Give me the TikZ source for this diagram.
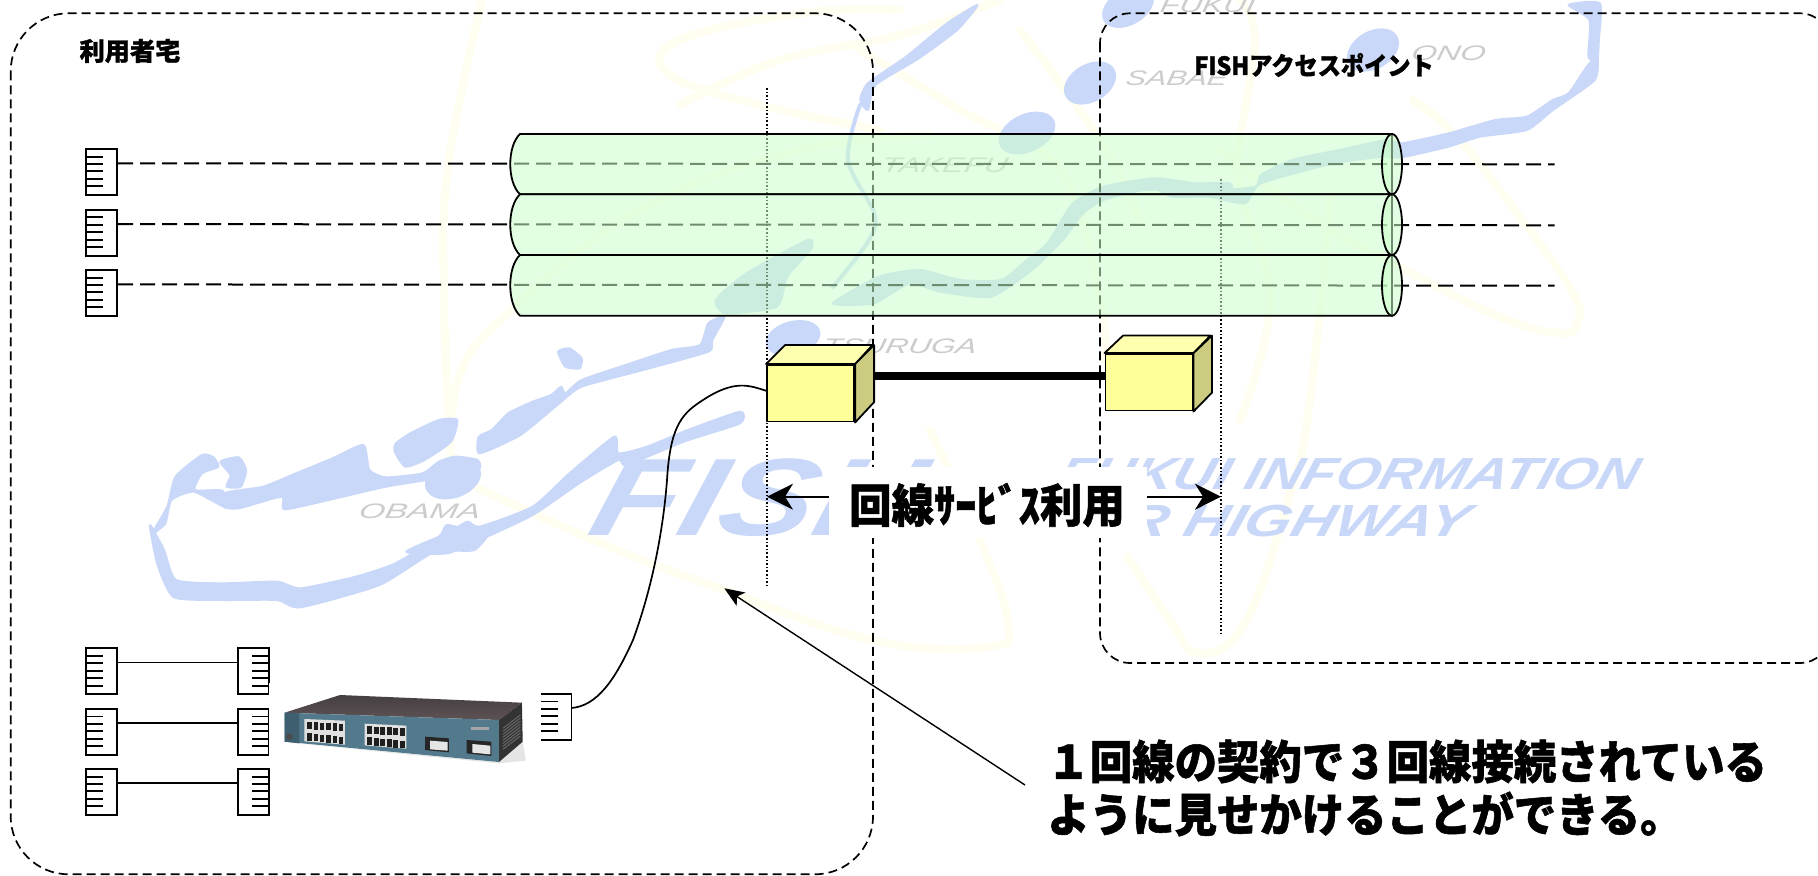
\documentclass[tikz,border=0pt]{standalone}
\usepackage{fontspec}
\usepackage{graphicx}
\usetikzlibrary{arrows.meta,calc}
\newfontfamily\jpf[UprightFont=* Black,FakeBold=1.2]{Noto Sans CJK JP}
\newfontfamily\mapf{Liberation Sans}
\definecolor{mapblue}{HTML}{C9D8F8}
\definecolor{mapyellow}{HTML}{FFFEF0}
\definecolor{tubegreen}{HTML}{CCFFCC}
\definecolor{cubefront}{HTML}{FFFF99}
\definecolor{cubetop}{HTML}{FFFFB0}
\definecolor{cubeside}{HTML}{CCCC80}
\definecolor{swfront}{HTML}{527A8C}
\definecolor{swdark}{HTML}{3E5F6F}
\definecolor{swtopa}{HTML}{453F42}
\definecolor{swtopb}{HTML}{5E5254}
\tikzset{
  coastfill/.style={fill=mapblue,draw=mapblue,line width=1pt,line join=round},
  coastline/.style={draw=mapblue,line cap=round,line join=round,smooth,tension=0.55},
  ycurve/.style={draw=mapyellow,line width=4pt,line cap=round,smooth,tension=0.7},
  maptext/.style={font=\mapf\itshape\fontsize{10.5}{12}\selectfont,text=black!20,inner sep=0,xslant=0.18,transform shape},
  bigmap/.style={font=\mapf\bfseries\itshape,text=mapblue,inner sep=0,xslant=0.28,transform shape},
  zone/.style={line width=0.85pt,dash pattern=on 4.5pt off 2.5pt,rounded corners=29pt},
  zonesmall/.style={line width=0.85pt,dash pattern=on 4.5pt off 2.5pt,rounded corners=15pt},
  guide/.style={line width=0.55pt,dash pattern=on 0.8pt off 1.0pt},
  cable/.style={line width=1pt,dash pattern=on 7.5pt off 3.5pt},
  patch/.style={line width=0.9pt},
  tube/.style={draw=black,line width=0.9pt,fill=tubegreen,fill opacity=0.55},
  porticon/.style={draw=black,line width=0.9pt,fill=white,rectangle,inner sep=0,minimum width=15.5pt,minimum height=23pt},
  portL/.style={porticon,path picture={
    \foreach \d in {7.7,15,22.3,30,37.3}
      \draw[line width=0.9pt] ([shift={(0,\d)}]path picture bounding box.north west) -- ++(17,0);}},
  portR/.style={porticon,path picture={
    \foreach \d in {7.7,15,22.3,30,37.3}
      \draw[line width=0.9pt] ([shift={(0,\d)}]path picture bounding box.north east) -- ++(-17,0);}},
  cubeface/.style={draw=black,line width=0.9pt,line join=round},
  cubebox/.style={cubeface,fill=cubefront,rectangle,inner sep=0,minimum width=43.6pt,minimum height=28.3pt},
  label/.style={font=\jpf\fontsize{21.2}{24.5}\selectfont,inner sep=0,text=black,yscale=1.08,transform shape},
  zonetitle/.style={font=\jpf\fontsize{12.6}{15}\selectfont,inner sep=0,text=black},
  apotitle/.style={font=\jpf\fontsize{11.6}{15}\selectfont,inner sep=0,text=black,yscale=1.08,transform shape},
  head/.style={-{Stealth[length=13pt,width=13pt,inset=4pt]}},
}
\newcommand{\maplbl}[5]{\node[maptext] (#1) at (#2,#3) {\scalebox{#5}[1]{#4}};}
\newcommand{\lakeat}[5]{\fill[mapblue,shift={(#1,#2)},rotate=#5] (0,0) ellipse (#3 and #4);}
\begin{document}
\begin{tikzpicture}[x=0.5pt,y=-0.5pt]
\useasboundingbox (0,0) rectangle (1818,876);
\path[clip] (0,0) rectangle (1818,876);
\fill[white] (0,0) rectangle (1818,876);

% ---------- background map ----------
\draw[ycurve] plot coordinates {(482,0)(448,167)(444,300)(451,460)};
\draw[ycurve] plot coordinates {(451,460)(459,377)(508,313)(640,210)(800,150)(930,135)};
\draw[ycurve] plot coordinates {(475,487)(610,547)(716,587)(872,640)(988,647)(1008,623)(980,540)(930,430)};
\draw[ycurve] plot coordinates {(1128,557)(1170,620)(1198,653)(1245,623)(1291,490)(1310,400)(1330,200)};
\draw[ycurve] plot coordinates {(1413,100)(1457,137)(1517,213)(1573,293)(1577,323)(1560,333)(1500,317)(1400,267)(1300,210)(1220,150)};
\draw[ycurve] plot coordinates {(880,130)(760,105)(670,75)(680,40)(804,13)(900,10)};
\draw[ycurve] plot coordinates {(680,105)(780,60)(900,35)(1000,0)};
\draw[ycurve] plot coordinates {(860,50)(960,110)(1060,170)(1100,300)(1105,360)};
\draw[ycurve] plot coordinates {(1020,30)(1100,140)(1140,220)};
\draw[ycurve] plot coordinates {(1240,0)(1255,40)(1240,140)(1240,190)(1270,300)(1240,420)};

% coast pieces
\begin{scope}[shift={(100,270)},x=0.2041pt,y=-0.16667pt]
  \path[coastfill] plot[smooth cycle,tension=0.35] coordinates {(128,790)(165,710)(185,620)(250,555)(278,562)(290,590)(250,610)(232,660)(300,662)(305,710)(230,665)(175,690)(160,760)};
  \path[coastfill] plot[smooth cycle,tension=0.35] coordinates {(295,575)(340,562)(358,600)(345,650)(310,650)(320,615)};
  \path[coastfill] plot[smooth cycle,tension=0.35] coordinates {(310,668)(400,650)(480,610)(570,565)(645,525)(660,600)(700,622)(790,610)(830,575)(870,560)(925,570)(925,600)(800,630)(700,650)(560,690)(452,718)(445,680)(340,715)(302,710)};
  \path[coastfill] plot[smooth cycle,tension=0.35] coordinates {(725,520)(760,490)(830,450)(875,450)(860,515)(795,570)(748,590)(722,545)};
  \path[coastfill] plot[smooth cycle,tension=0.35] coordinates {(928,500)(960,480)(1000,430)(1060,395)(1105,375)(1130,350)(1140,370)(1180,330)(1300,280)(1400,240)(1470,225)(1490,160)(1530,140)(1500,210)(1490,245)(1330,300)(1180,350)(1130,395)(1030,495)(930,550)};
  \path[coastfill] plot[smooth cycle,tension=0.35] coordinates {(1122,245)(1150,235)(1180,265)(1175,295)(1140,290)};
  \path[coastfill] plot[smooth cycle,tension=0.35] coordinates {(750,845)(850,790)(900,755)(930,770)(1060,710)(1150,610)(1260,500)(1270,550)(1340,530)(1440,480)(1568,425)(1568,460)(1430,515)(1290,585)(1270,570)(1180,635)(1060,735)(930,810)(850,850)};
\end{scope}
\begin{scope}[shift={(0,520)},x=0.1977pt,y=-0.16667pt]
  \path[coastfill] plot[smooth cycle,tension=0.35] coordinates {(380,15)(415,90)(445,180)(560,190)(700,185)(760,205)(900,170)(1000,130)(1110,50)(1130,15)(1190,30)(1250,15)(1200,90)(1100,95)(960,195)(760,262)(700,240)(560,240)(440,232)(400,140)(385,60)};
\end{scope}
\begin{scope}[shift={(430,100)},x=0.2551pt,y=-0.16667pt]
  \path[coastfill] plot[smooth cycle,tension=0.35] coordinates {(560,600)(620,520)(740,420)(748,445)(700,530)(680,620)(580,640)};
  \path[coastfill] plot[smooth cycle,tension=0.35] coordinates {(790,610)(880,530)(960,510)(1040,540)(1120,540)(1170,480)(1210,430)(1260,310)(1320,260)(1420,235)(1500,250)(1568,250)(1568,290)(1480,275)(1400,270)(1320,300)(1280,340)(1240,420)(1180,510)(1100,590)(1000,575)(940,550)(870,610)};
\end{scope}
\begin{scope}[shift={(1000,0)},x=0.2608pt,y=-0.16667pt]
  \path[coastfill] plot[smooth cycle,tension=0.35] coordinates {(420,570)(490,560)(500,525)(560,480)(650,450)(740,420)(770,430)(860,400)(950,360)(1010,350)(1060,300)(1090,280)(1125,200)(1145,170)(1140,240)(1060,330)(1010,390)(920,410)(860,440)(770,472)(735,470)(640,490)(500,550)(470,610)(400,590)(330,590)(300,560)};
  \path[coastfill] plot[smooth cycle,tension=0.35] coordinates {(1090,15)(1150,10)(1148,120)(1145,180)(1128,170)(1130,60)};
\end{scope}
\begin{scope}[shift={(600,0)},x=0.2551pt,y=-0.16667pt]
  \path[coastfill] plot[smooth cycle,tension=0.35] coordinates {(510,300)(525,250)(600,170)(680,70)(740,15)(700,90)(625,175)(540,255)(525,330)};
\end{scope}
\draw[coastline,line width=2pt] plot coordinates {(860,105)(848,160)(874,213)(869,240)(833,287)};
% lakes
\lakeat{453}{479}{29}{19}{20}
\lakeat{1090}{83}{28}{19}{30}
\lakeat{1128}{7}{28}{18}{30}
\lakeat{1373}{50}{28}{19}{30}
\lakeat{1027}{133}{30}{19}{25}
\lakeat{793}{338}{28}{17}{15}
% map names
\maplbl{mO}{420}{511}{OBAMA}{1.6}
\maplbl{mS}{1177}{78}{SABAE}{1.45}
\maplbl{mN}{1449}{53}{ONO}{1.55}
\maplbl{mT}{945}{165}{TAKEFU}{1.55}
\maplbl{mR}{900}{346}{TSURUGA}{1.5}
\maplbl{mK}{1208}{5}{FUKUI}{1.5}
\node[bigmap,anchor=west] (mF) at (596,498) {\scalebox{1.3}[1]{\fontsize{55}{60}\selectfont FISH}};
\node[bigmap,anchor=east] (mI) at (1640,474) {\scalebox{1.25}[1]{\fontsize{22.5}{26}\selectfont FUKUI INFORMATION}};
\node[bigmap,anchor=east] (mH) at (1470,521) {\scalebox{1.34}[1]{\fontsize{22.5}{26}\selectfont SUPER HIGHWAY}};

% ---------- zones and guide lines ----------
\draw[zone] (10.7,13.3) rectangle (873,874.3);
\draw[zonesmall] (1100,13.3) rectangle (1830,663);
\coordinate (gAt) at (767,88);
\coordinate (gAb) at (767,587);
\coordinate (gBt) at (1221,179);
\coordinate (gBb) at (1221,633);
\draw[guide] (gAt) -- (gAb);
\draw[guide] (gBt) -- (gBb);

% ---------- ports ----------
\node[portL] (p1) at (101.7,172) {};
\node[portL] (p2) at (101.7,232.7) {};
\node[portL] (p3) at (101.7,293) {};
\node[portL] (q1) at (101.7,671.3) {};
\node[portL] (q2) at (101.7,731.7) {};
\node[portL] (q3) at (101.7,792) {};
\node[portR] (r1) at (253.5,671.3) {};
\node[portR] (r2) at (253.5,731.7) {};
\node[portR] (r3) at (253.5,792) {};
\node[portL] (sp) at (556,716.7) {};

% ---------- dashed cables (seen through the tubes) ----------
\coordinate (e1) at (1554.5,164.3);
\coordinate (e2) at (1554.5,225.3);
\coordinate (e3) at (1554.5,285.7);
\draw[cable] ([yshift=-7.65pt]p1.north east) -- (e1);
\draw[cable] ([yshift=-7.65pt]p2.north east) -- (e2);
\draw[cable] ([yshift=-7.65pt]p3.north east) -- (e3);

% ---------- tubes ----------
\foreach \t/\b in {134/194.3,194.3/255,255/315.7}{
  \draw[tube] (1392,\t) -- (520,\t) .. controls (507,\t+12) and (507,\b-12) .. (520,\b) -- (1392,\b) -- cycle;
  \draw[tube] (1392,{(\t+\b)/2}) ellipse (10 and {(\b-\t)/2});
}

% ---------- patch lines ----------
\draw[patch] ([yshift=-7.5pt]q1.north east) -- ([yshift=-7.5pt]r1.north west);
\draw[patch] ([yshift=-7.5pt]q2.north east) -- ([yshift=-7.5pt]r2.north west);
\draw[patch] ([yshift=-7.5pt]q3.north east) -- ([yshift=-7.5pt]r3.north west);

% ---------- switch photo ----------
\fill[white] (269,683) rectangle (541,768);
\begin{scope}[shift={(0,520)},x=0.1977pt,y=-0.16667pt]
  \fill[black!10] (725,668) -- (1262,730) -- (1330,722) -- (1322,665) -- (1262,726) -- cycle;
  \path[top color=swtopa,bottom color=swtopb] (720,578) -- (860,525) -- (1320,548) -- (1262,600) -- cycle;
  \fill[black!80] (1262,600) -- (1320,548) -- (1322,665) -- (1262,726) -- cycle;
  \foreach \k in {0,...,7}
    \draw[black!60,line width=0.5pt] (1272,{625+\k*9}) -- (1316,{585+\k*9});
  \fill[swfront] (720,578) -- (1262,600) -- (1262,726) -- (720,665) -- cycle;
  \fill[swdark] (720,578) -- (757,580) -- (757,670) -- (720,665) -- cycle;
  \fill[black!70] (732,650) circle (9);
  \fill[black!12] (770,597) -- (872,602) -- (872,674) -- (770,664) -- cycle;
  \fill[black!12] (922,611) -- (1028,617) -- (1028,686) -- (922,676) -- cycle;
  \foreach \i in {0,...,5}{
    \fill[black!88] ({777+16*\i},{606+\i}) rectangle ++(11,22);
    \fill[black!88] ({777+16*\i},{640+2*\i}) rectangle ++(11,22);
    \fill[black!88] ({929+16.5*\i},{619+\i}) rectangle ++(12,23);
    \fill[black!88] ({929+16.5*\i},{652+2*\i}) rectangle ++(12,23);
  }
  \fill[black!85] (1075,650) -- (1135,655) -- (1135,697) -- (1075,690) -- cycle;
  \fill[black!10] (1088,662) -- (1132,666) -- (1132,692) -- (1088,688) -- cycle;
  \fill[black!85] (1180,660) -- (1243,665) -- (1243,708) -- (1180,700) -- cycle;
  \fill[black!10] (1195,672) -- (1240,677) -- (1240,703) -- (1195,698) -- cycle;
  \fill[black!35] (1192,622) rectangle (1238,630);
\end{scope}

% ---------- cubes ----------
\node[cubebox] (cA) at (810.6,393.3) {};
\node[cubebox] (cB) at (1149,382.3) {};
\draw[cubeface,fill=cubetop] (cA.north west) -- ++(19,-19) -- ++(87.3,0) -- (cA.north east) -- cycle;
\draw[cubeface,fill=cubeside] (cA.north east) -- ++(19,-19) -- ++(0,57) -- (cA.south east) -- cycle;
\draw[cubeface,fill=cubetop] (cB.north west) -- ++(18.5,-17.5) -- ++(87.3,0) -- (cB.north east) -- cycle;
\draw[cubeface,fill=cubeside] (cB.north east) -- ++(18.5,-17.5) -- ++(0,57) -- (cB.south east) -- cycle;
\coordinate (cAside) at (873.3,376);
\coordinate (cBside) at (1105.7,376);
\draw[line width=3.6pt] (cAside) -- (cBside);

% ---------- uplink ----------
\coordinate (spOut) at (571.4,708);
\coordinate (cAin) at (767,391);
\draw[line width=0.85pt] (spOut) .. controls (597,706) and (615,680) .. (633,640)
  .. controls (655,580) and (664,520) .. (667,480)
  .. controls (670,430) and (680,415) .. (700,402)
  .. controls (735,378) and (750,386) .. (cAin);

% ---------- labels ----------
\node[zonetitle] (tHome) at (130,51) {利用者宅};
\node[apotitle] (tAP) at (1314,65) {FISHアクセスポイント};
\node[fill=white,inner sep=0,minimum width=158.8pt,minimum height=35.5pt] (svcbg) at (987.8,502.2) {};
\node[label] (svc) at (987,505) {回線ｻｰﾋﾞｽ利用};
\coordinate (aL) at (767,496.7);
\coordinate (aR) at (1221,496.7);
\draw[head,line width=1.1pt] ([yshift=2.75pt]svcbg.west) -- (aL);
\draw[head,line width=1.1pt] ([yshift=2.75pt]svcbg.east) -- (aR);
\node[label,anchor=west,align=left] (note) at (1047,788) {１回線の契約で３回線接続されている\\ように見せかけることができる。};
\coordinate (nTail) at (1025,785);
\coordinate (nHead) at (724.3,588.3);
\draw[line width=0.7pt,-{Stealth[length=10pt,width=8pt,inset=2.5pt]}] (nTail) -- (nHead);
\end{tikzpicture}
\end{document}
